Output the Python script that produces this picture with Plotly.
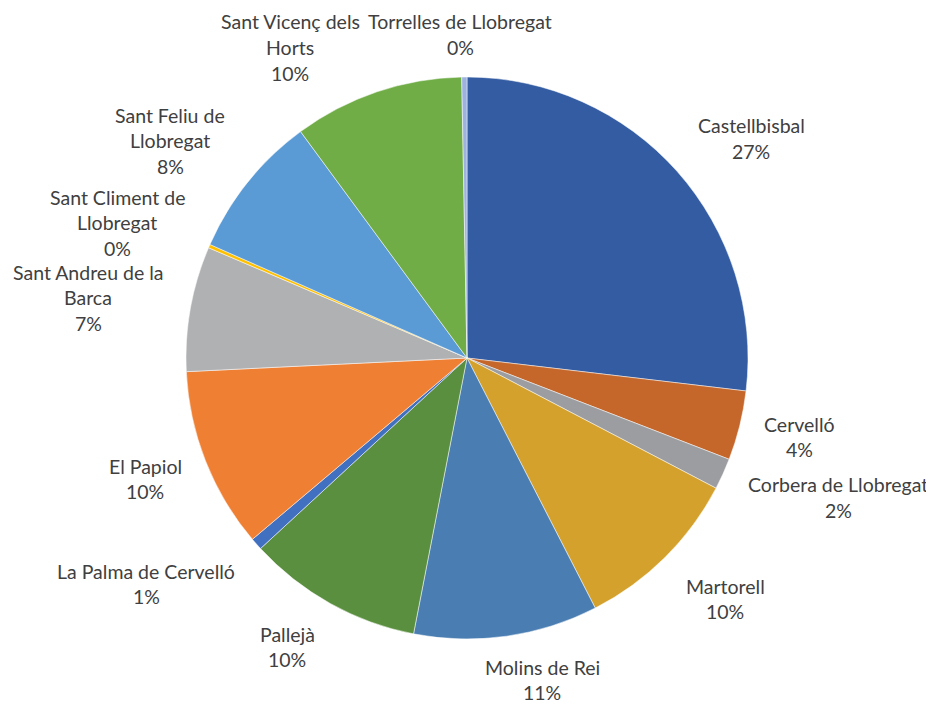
import plotly.graph_objects as go

municipalities = ["Castellbisbal", "Cervelló", "Corbera de Llobregat", "Martorell",
                  "Molins de Rei", "Pallejà", "La Palma de Cervelló", "El Papiol",
                  "Sant Andreu de la Barca", "Sant Climent de Llobregat",
                  "Sant Feliu de Llobregat", "Sant Vicenç dels Horts",
                  "Torrelles de Llobregat"]
share_pct = [26.9, 4.0, 1.8, 9.8, 10.6, 10.1, 0.7, 10.4, 7.2, 0.2, 8.3, 9.8, 0.3]
label_lines = [["Castellbisbal"], ["Cervelló"], ["Corbera de Llobregat"], ["Martorell"],
               ["Molins de Rei"], ["Pallejà"], ["La Palma de Cervelló"], ["El Papiol"],
               ["Sant Andreu de la", "Barca"], ["Sant Climent de", "Llobregat"],
               ["Sant Feliu de", "Llobregat"], ["Sant Vicenç dels", "Horts"],
               ["Torrelles de Llobregat"]]
colors = ["#335CA2", "#C5672A", "#9C9DA0", "#D4A12C", "#4A7EB2", "#5B8F40",
          "#4270C0", "#EE7F33", "#B0B1B3", "#FFC000", "#5B9BD5", "#70AD47", "#9DB2DF"]

# label block: centre x and first-line y, in page pixels (layout only)
label_pos = [(751, 126), (799, 424), (838, 485), (725, 586), (542, 667),
             (287, 634), (146, 571), (145, 466), (88, 272), (117, 197),
             (170, 115), (290, 22), (460, 22)]
LINE = 25.8

OFF = 8  # page body margin
W, H = 934 - OFF, 704 - OFF
cx, cy, r = 467 - OFF, 358 - OFF, 281

fig = go.Figure(go.Pie(
    labels=municipalities, values=share_pct, sort=False, direction="clockwise",
    rotation=0, marker=dict(colors=colors, line=dict(color="white", width=0.5)),
    textinfo="none", hoverinfo="label+percent", showlegend=False,
    domain=dict(x=[(cx - r) / W, (cx + r) / W],
                y=[(H - cy - r) / H, (H - cy + r) / H]),
))

total = sum(share_pct)
for lines, v, (px, py) in zip(label_lines, share_pct, label_pos):
    pct = int(v / total * 100 + 0.5)
    for i, t in enumerate(lines + [f"{pct}%"]):
        fig.add_annotation(text=t, x=(px - OFF) / W, y=1 - (py + i * LINE - OFF) / H,
                           xref="paper", yref="paper", showarrow=False,
                           xanchor="center", yanchor="middle", align="center",
                           font=dict(family="Lato", size=19.5, color="#404040"))

fig.update_layout(width=W, height=H, margin=dict(l=0, r=0, t=0, b=0),
                  paper_bgcolor="white", plot_bgcolor="white")
fig.write_html("out.html")
